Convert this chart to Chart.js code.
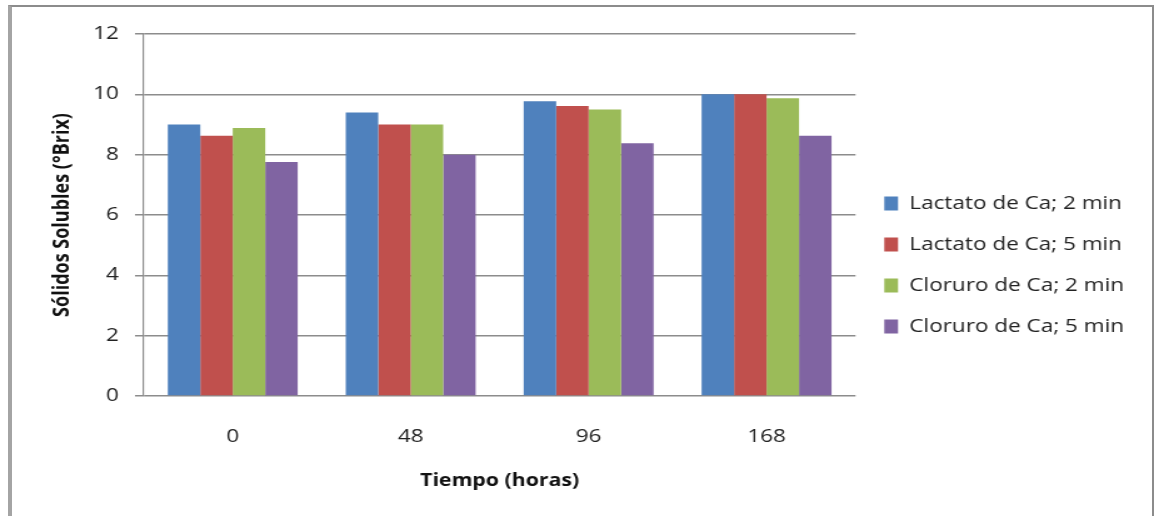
<!DOCTYPE html>
<html>
<head>
<meta charset="utf-8">
<script src="https://cdn.jsdelivr.net/npm/chart.js@4.4.1/dist/chart.umd.min.js"></script>
<style>
    body { margin: 0; background: #fff; }
    #wrap { position: relative; width: 1154px; height: 516px; overflow: hidden; }
    #frame { position: absolute; left: 8px; top: 5px; width: 1140px; height: 530px;
             border-left: 4px solid #a4a4a4; border-top: 2px solid #8c8c8c; border-right: 2px solid #8c8c8c; }
    canvas { position: absolute; left: 0; top: 0; }
</style>
</head>
<body>
<div id="wrap">
    <div id="frame"></div>
    <!-- das original ist horizontal gestreckt, darum canvas schmaler und per css breiter -->
    <canvas id="chart" width="923" height="516" style="width:1154px;height:516px"></canvas>
</div>
<script>
// datos
const categorias = ['0', '48', '96', '168'];
const series = ['Lactato de Ca; 2 min', 'Lactato de Ca; 5 min', 'Cloruro de Ca; 2 min', 'Cloruro de Ca; 5 min'];
const lactato2 = [9.0, 9.4, 9.77, 10.0];
const lactato5 = [8.63, 9.0, 9.61, 10.0];
const cloruro2 = [8.88, 9.0, 9.5, 9.87];
const cloruro5 = [7.76, 8.0, 8.38, 8.63];
const colores = ['#4f81bd', '#c0504d', '#9bbb59', '#8064a2'];
const valores = [lactato2, lactato5, cloruro2, cloruro5];

const fuente = "'Open Sans', 'DejaVu Sans', sans-serif";

// datasets aus den arrays bauen
const datasets = series.map(function(nombre, i) {
    return {
        label: nombre,
        data: valores[i],
        backgroundColor: colores[i],
        borderWidth: 0,
        categoryPercentage: 0.73,
        barPercentage: 1.0
    };
});

const ctx = document.getElementById('chart');
new Chart(ctx, {
    type: 'bar',
    data: { labels: categorias, datasets: datasets },
    options: {
        responsive: false,
        animation: false,
        devicePixelRatio: 1,
        layout: { padding: { left: 0, top: 34, right: 14, bottom: 20 } },
        plugins: {
            tooltip: { enabled: false },
            legend: {
                position: 'right',
                labels: {
                    boxWidth: 11,
                    boxHeight: 14,
                    padding: 23,
                    color: '#222',
                    font: { family: fuente, size: 18 }
                }
            }
        },
        scales: {
            x: {
                grid: { display: false, drawTicks: false },
                border: { display: false },
                ticks: { color: '#222', padding: 30, font: { family: fuente, size: 18 } },
                title: {
                    display: true,
                    text: 'Tiempo (horas)',
                    color: '#111',
                    font: { family: fuente, size: 17, weight: 'bold' },
                    padding: { top: 0, bottom: 5 }
                },
                afterFit: function(scale) { scale.height = 100; }
            },
            y: {
                min: 0,
                max: 12,
                ticks: { stepSize: 2, color: '#222', padding: 13, font: { family: fuente, size: 18 } },
                grid: { color: '#8c8c8c', lineWidth: 1.5, tickLength: 7 },
                border: { color: '#8c8c8c', width: 1.2 },
                title: {
                    display: true,
                    text: 'Sólidos Solubles (°Brix)',
                    color: '#111',
                    font: { family: fuente, size: 18, weight: 'bold' },
                    padding: { top: 39, bottom: 0 }
                },
                afterFit: function(scale) { scale.width = 115; }
            }
        }
    }
});
</script>
</body>
</html>
